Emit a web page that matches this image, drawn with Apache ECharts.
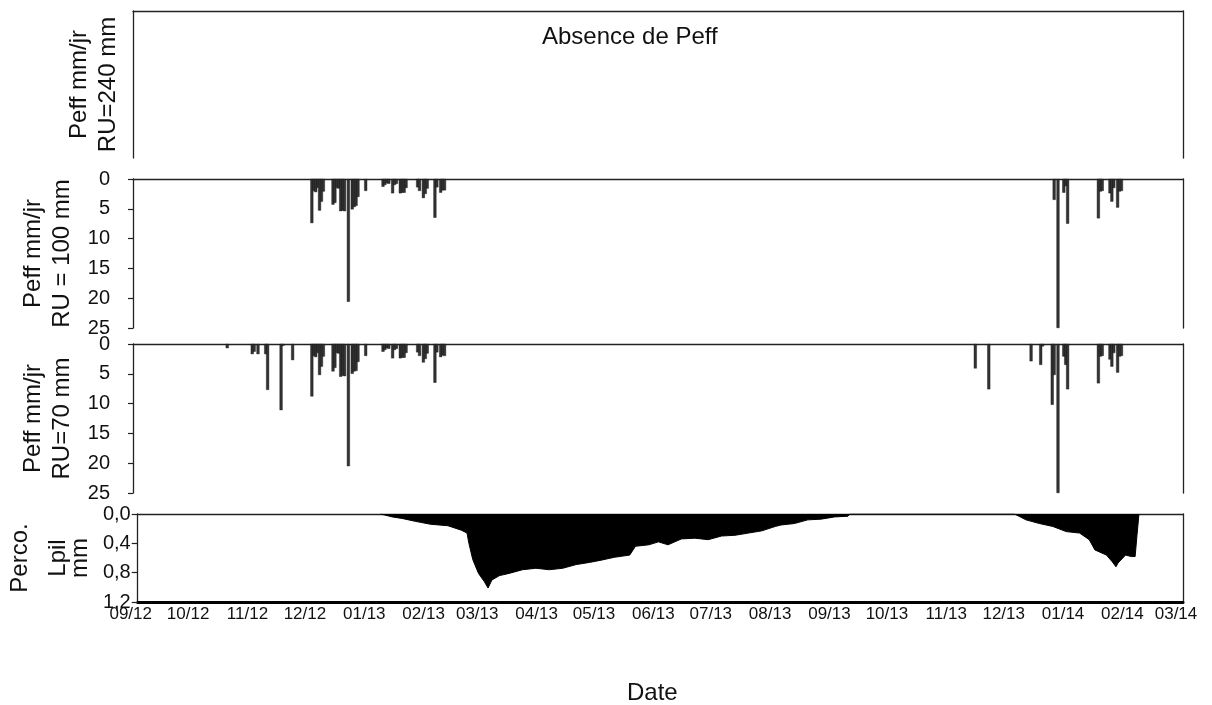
<!DOCTYPE html>
<html>
<head>
<meta charset="utf-8">
<title>Peff et percolation</title>
<script src="https://cdn.jsdelivr.net/npm/echarts@6/dist/echarts.min.js"></script>
<style>
html, body { margin: 0; padding: 0; background: #fff; }
#chart { width: 1212px; height: 705px; }
</style>
</head>
<body>
<div id="chart"></div>
<script>
// mois affichés sur l'axe des dates
var moisTicks = ['2012-09-01', '2012-10-01', '2012-11-01', '2012-12-01', '2013-01-01', '2013-02-01',
    '2013-03-01', '2013-04-01', '2013-05-01', '2013-06-01', '2013-07-01', '2013-08-01', '2013-09-01',
    '2013-10-01', '2013-11-01', '2013-12-01', '2014-01-01', '2014-02-01', '2014-03-01'];

// Peff mm/jr, RU = 100 mm
var peff100 = [
    ['2012-12-03', 7.4], ['2012-12-04', 2.0], ['2012-12-05', 2.2], ['2012-12-06', 1.5], ['2012-12-07', 5.3],
    ['2012-12-08', 3.8], ['2012-12-09', 2.1], ['2012-12-14', 4.3], ['2012-12-15', 4.0], ['2012-12-16', 1.5],
    ['2012-12-17', 1.6], ['2012-12-18', 5.4], ['2012-12-19', 5.3], ['2012-12-20', 5.4], ['2012-12-22', 20.6],
    ['2012-12-24', 5.1], ['2012-12-25', 4.7], ['2012-12-26', 4.5], ['2012-12-27', 3.0], ['2012-12-31', 2.0],
    ['2013-01-09', 1.3], ['2013-01-10', 1.0], ['2013-01-11', 0.7], ['2013-01-12', 0.8], ['2013-01-14', 2.4],
    ['2013-01-15', 1.0], ['2013-01-16', 0.8], ['2013-01-18', 2.4], ['2013-01-19', 2.3], ['2013-01-20', 2.3],
    ['2013-01-21', 1.5], ['2013-01-27', 1.4], ['2013-01-28', 2.0], ['2013-01-30', 3.2], ['2013-01-31', 2.5],
    ['2013-02-01', 1.6], ['2013-02-05', 6.5], ['2013-02-06', 1.4], ['2013-02-08', 2.3], ['2013-02-09', 1.9],
    ['2013-02-10', 1.9],
    ['2013-12-24', 3.5], ['2013-12-26', 25], ['2013-12-29', 2.3], ['2013-12-30', 1.2], ['2013-12-31', 7.5],
    ['2014-01-16', 6.6], ['2014-01-17', 2.1], ['2014-01-18', 2.0], ['2014-01-22', 2.4], ['2014-01-23', 3.8],
    ['2014-01-24', 1.5], ['2014-01-26', 4.8], ['2014-01-27', 2.1], ['2014-01-28', 2.0]
];

// Peff mm/jr, RU = 70 mm
var peff70 = [
    ['2012-10-20', 0.7], ['2012-11-02', 1.7], ['2012-11-03', 1.3], ['2012-11-05', 1.7], ['2012-11-09', 1.7],
    ['2012-11-10', 7.7], ['2012-11-17', 11.1], ['2012-11-18', 0.3], ['2012-11-23', 2.7],
    ['2012-12-03', 8.8], ['2012-12-04', 2.0], ['2012-12-05', 2.2], ['2012-12-06', 1.5], ['2012-12-07', 5.2],
    ['2012-12-08', 3.8], ['2012-12-09', 2.1], ['2012-12-14', 4.6], ['2012-12-15', 4.0], ['2012-12-16', 1.5],
    ['2012-12-17', 1.6], ['2012-12-18', 5.5], ['2012-12-19', 5.3], ['2012-12-20', 5.4], ['2012-12-22', 20.5],
    ['2012-12-24', 5.0], ['2012-12-25', 4.6], ['2012-12-26', 4.5], ['2012-12-27', 3.0], ['2012-12-31', 2.0],
    ['2013-01-09', 1.3], ['2013-01-10', 1.0], ['2013-01-11', 0.7], ['2013-01-12', 0.8], ['2013-01-14', 2.4],
    ['2013-01-15', 1.0], ['2013-01-16', 0.8], ['2013-01-18', 2.4], ['2013-01-19', 2.3], ['2013-01-20', 2.3],
    ['2013-01-21', 1.5], ['2013-01-27', 1.4], ['2013-01-28', 2.0], ['2013-01-30', 3.1], ['2013-01-31', 2.5],
    ['2013-02-01', 1.6], ['2013-02-05', 6.5], ['2013-02-06', 1.4], ['2013-02-08', 2.2], ['2013-02-09', 1.9],
    ['2013-02-10', 2.0],
    ['2013-11-13', 4.1], ['2013-11-20', 7.6], ['2013-12-12', 2.9], ['2013-12-17', 3.5], ['2013-12-18', 0.4],
    ['2013-12-23', 10.2], ['2013-12-24', 5.2], ['2013-12-26', 25], ['2013-12-29', 2.1], ['2013-12-30', 3.5],
    ['2013-12-31', 7.6],
    ['2014-01-16', 6.6], ['2014-01-17', 2.1], ['2014-01-18', 2.0], ['2014-01-22', 2.6], ['2014-01-23', 3.8],
    ['2014-01-24', 1.5], ['2014-01-26', 4.8], ['2014-01-27', 2.1], ['2014-01-28', 2.0]
];

// percolation sous lysimètre (mm)
var perco = [
    ['2013-01-06', 0], ['2013-01-07', 0.02], ['2013-01-12', 0.04], ['2013-01-17', 0.06], ['2013-01-24', 0.10],
    ['2013-02-01', 0.14], ['2013-02-10', 0.16], ['2013-02-17', 0.22], ['2013-02-20', 0.26], ['2013-02-21', 0.40],
    ['2013-02-23', 0.62], ['2013-02-26', 0.81], ['2013-03-01', 0.92], ['2013-03-03', 1.01], ['2013-03-05', 0.90],
    ['2013-03-09', 0.84], ['2013-03-14', 0.81], ['2013-03-21', 0.76], ['2013-03-28', 0.74], ['2013-04-04', 0.76],
    ['2013-04-11', 0.74], ['2013-04-18', 0.69], ['2013-04-25', 0.66], ['2013-05-01', 0.63], ['2013-05-08', 0.59],
    ['2013-05-16', 0.56], ['2013-05-19', 0.44], ['2013-05-26', 0.42], ['2013-05-31', 0.38], ['2013-06-05', 0.42],
    ['2013-06-12', 0.34], ['2013-06-19', 0.33], ['2013-06-26', 0.35], ['2013-07-03', 0.30], ['2013-07-10', 0.29],
    ['2013-07-17', 0.26], ['2013-07-24', 0.23], ['2013-07-31', 0.17], ['2013-08-03', 0.15], ['2013-08-10', 0.13],
    ['2013-08-17', 0.08], ['2013-08-24', 0.07], ['2013-08-31', 0.04], ['2013-09-07', 0.03], ['2013-09-08', 0],
    ['2013-12-03', 0], ['2013-12-04', 0.01], ['2013-12-09', 0.08], ['2013-12-16', 0.13], ['2013-12-23', 0.17],
    ['2013-12-30', 0.24], ['2014-01-06', 0.26], ['2014-01-11', 0.35], ['2014-01-14', 0.49], ['2014-01-20', 0.56],
    ['2014-01-23', 0.65], ['2014-01-25', 0.72], ['2014-01-26', 0.67], ['2014-01-30', 0.56], ['2014-02-02', 0.58],
    ['2014-02-04', 0.58], ['2014-02-05', 0.28], ['2014-02-06', 0]
];

var FONT = '"Liberation Sans", Arial, sans-serif';
var AXE = '#222';

function ts(s) {
    var p = s.split('-');
    return new Date(+p[0], +p[1] - 1, +p[2]).getTime();
}
function pad(n) { return n < 10 ? '0' + n : '' + n; }
function enDates(arr) {
    return arr.map(function (d) { return [ts(d[0]), d[1]]; });
}

var tMin = ts(moisTicks[0]);
var tMax = ts(moisTicks[moisTicks.length - 1]);
var moisVals = moisTicks.map(ts);

var chart = echarts.init(document.getElementById('chart'));

var grids = [
    { left: 133, right: 29, top: 11, height: 147 },
    { left: 133, right: 29, top: 179, height: 149 },
    { left: 133, right: 29, top: 344, height: 149 },
    { left: 133, right: 29, top: 514, height: 88 }
];

// ligne du haut de chaque panneau
var xAxes = grids.map(function (g, i) {
    return {
        type: 'value', gridIndex: i, position: 'top', min: tMin, max: tMax,
        axisLine: { show: true, onZero: false, lineStyle: { color: AXE, width: 1.3 } },
        axisTick: { show: false }, axisLabel: { show: false }, splitLine: { show: false }
    };
});
// axe des dates en bas
xAxes.push({
    type: 'value', gridIndex: 3, position: 'bottom', min: tMin, max: tMax,
    axisLine: { show: true, onZero: false, lineStyle: { color: '#000', width: 3 } },
    axisTick: { show: false },
    splitLine: { show: false },
    axisLabel: {
        show: true, customValues: moisVals, margin: 4,
        showMinLabel: true, showMaxLabel: true,
        color: '#111', fontSize: 17, fontFamily: FONT,
        formatter: function (v) {
            var d = new Date(v);
            return '{t|' + pad(d.getMonth() + 1) + '/' + String(d.getFullYear()).slice(2) + '}{s| }';
        },
        rich: {
            t: { fontSize: 17, fontFamily: FONT, color: '#111' },
            s: { fontSize: 17, width: 14 }
        }
    }
});

var nameStyle = { color: '#111', fontSize: 24, fontFamily: FONT, lineHeight: 29 };

function gaucheY(i, name, gap, extra) {
    var ax = {
        type: 'value', gridIndex: i, position: 'left', name: name,
        nameLocation: 'middle', nameRotate: 90, nameGap: gap, nameTextStyle: nameStyle,
        axisLine: { show: true, onZero: false, lineStyle: { color: AXE, width: 1.3 } },
        splitLine: { show: false }
    };
    for (var k in extra) ax[k] = extra[k];
    return ax;
}

var yTick = { show: true, length: 5, lineStyle: { color: AXE, width: 1.2 } };
var yLab = { color: '#111', fontSize: 20, fontFamily: FONT, margin: 23 };

var yAxes = [
    gaucheY(0, 'Peff mm/jr\nRU=240 mm', 10, {
        min: 0, max: 1, axisTick: { show: false }, axisLabel: { show: false }
    }),
    gaucheY(1, 'Peff mm/jr\nRU = 100 mm', 48, {
        inverse: true, min: 0, max: 25, interval: 5, axisTick: yTick, axisLabel: yLab
    }),
    gaucheY(2, 'Peff mm/jr\nRU=70 mm', 48, {
        inverse: true, min: 0, max: 25, interval: 5, axisTick: yTick, axisLabel: yLab
    }),
    gaucheY(3, '{a|Perco.}\n{b|Lpil}\n{c|mm}', 46, {
        inverse: true, min: 0, max: 1.2, interval: 0.4,
        nameTextStyle: {
            color: '#111', fontSize: 24, fontFamily: FONT,
            rich: {
                a: { fontSize: 24, fontFamily: FONT, color: '#111', lineHeight: 42 },
                b: { fontSize: 24, fontFamily: FONT, color: '#111', lineHeight: 34 },
                c: { fontSize: 24, fontFamily: FONT, color: '#111', lineHeight: 10 }
            }
        },
        axisTick: { show: true, length: 6, lineStyle: { color: AXE, width: 1.2 } },
        axisLabel: {
            color: '#111', fontSize: 20, fontFamily: FONT, margin: 7,
            formatter: function (v) { return v.toFixed(1).replace('.', ','); }
        }
    })
];
// bord droit
grids.forEach(function (g, i) {
    yAxes.push({
        type: 'value', gridIndex: i, position: 'right', min: 0, max: 1,
        axisLine: { show: true, onZero: false, lineStyle: { color: AXE, width: 1.3 } },
        axisTick: { show: false }, axisLabel: { show: false }, splitLine: { show: false }
    });
});

var option = {
    animation: false,
    backgroundColor: '#fff',
    title: [
        { text: 'Absence de Peff', left: 542, top: 25, padding: 0,
          textStyle: { color: '#111', fontSize: 24, fontWeight: 'normal', fontFamily: FONT } },
        { text: 'Date', left: 627, top: 681, padding: 0,
          textStyle: { color: '#111', fontSize: 24, fontWeight: 'normal', fontFamily: FONT } }
    ],
    grid: grids,
    xAxis: xAxes,
    yAxis: yAxes,
    series: [
        {
            name: 'RU 100', type: 'bar', xAxisIndex: 1, yAxisIndex: 1,
            data: enDates(peff100), barWidth: 3,
            itemStyle: { color: '#333', borderColor: '#111', borderWidth: 0.4 }
        },
        {
            name: 'RU 70', type: 'bar', xAxisIndex: 2, yAxisIndex: 2,
            data: enDates(peff70), barWidth: 3,
            itemStyle: { color: '#333', borderColor: '#111', borderWidth: 0.4 }
        },
        {
            name: 'Perco', type: 'line', xAxisIndex: 4, yAxisIndex: 3,
            data: enDates(perco), symbol: 'none',
            lineStyle: { color: '#000', width: 1 },
            areaStyle: { color: '#000', opacity: 1 }
        }
    ]
};

chart.setOption(option);
window.addEventListener('resize', function () {
    chart.resize();
});
</script>
</body>
</html>
